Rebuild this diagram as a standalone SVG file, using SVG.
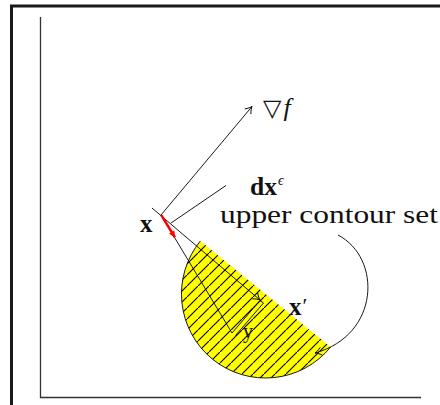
<svg xmlns="http://www.w3.org/2000/svg" width="440" height="405" viewBox="0 0 440 405">
<style>
.frame{stroke:#1a1a1a;stroke-width:3;fill:none}
.axis{stroke:#333;stroke-width:1.3;fill:none}
.ln{stroke:#000;stroke-width:0.9;fill:none}
.serif{font-family:"Liberation Serif","DejaVu Serif",serif;fill:#111}
.bold{font-weight:bold}
</style>
<defs>
<marker id="arr" markerUnits="userSpaceOnUse" markerWidth="14" markerHeight="12" viewBox="-8 -6 10 12" refX="0" refY="0" orient="auto">
<path d="M-6.5,-4 C-4,-1.8 -1.5,-0.5 0,0 C-1.5,0.5 -4,1.8 -6.5,4" stroke="#000" stroke-width="0.9" fill="none"/>
</marker>
<marker id="arrRed" markerUnits="userSpaceOnUse" markerWidth="10" markerHeight="10" viewBox="-6 -4 7 8" refX="0" refY="0" orient="auto">
<path d="M-5,-2.5 L0,0 L-5,2.5 Z" fill="#ff0000"/>
</marker>
<pattern id="hatch" patternUnits="userSpaceOnUse" width="11" height="11">
<rect width="11" height="11" fill="#ffff00"/>
<path d="M-1,12 L12,-1 M-3,2 L2,-3 M9,14 L14,9" stroke="#000" stroke-width="1.1"/>
</pattern>
</defs>

<g id="frame">
<path class="frame" d="M11.5,405 L11.5,6 L440,6"/>
</g>
<g id="axes">
<path class="axis" d="M40.5,17 L40.5,397.5 L421,397.5"/>
</g>

<g id="upper-contour-set">
<path d="M200.4,240.9 A84,84 0 0 0 330.6,347.1 Z" fill="url(#hatch)" stroke="none"/>
<path d="M200.4,240.9 A84,84 0 0 0 330.6,347.1" class="ln"/>
</g>

<g id="connectors">
<line id="grad" class="ln" x1="161" y1="215" x2="252" y2="106.5" marker-end="url(#arr)"/>
<line id="tangent" class="ln" x1="152" y1="208" x2="260" y2="300" marker-end="url(#arr)"/>
<line id="dx-line" class="ln" x1="171" y1="223" x2="226" y2="185.5"/>
<line id="x-to-y" class="ln" x1="161" y1="215" x2="232" y2="333"/>
<path id="y-to-xp" class="ln" d="M232,333 L260,300.5 L263.5,303 L235.5,335.5"/>
<line id="red-dx" x1="161.5" y1="215.5" x2="175" y2="237.5" stroke="#ff0000" stroke-width="2.4" marker-end="url(#arrRed)"/>
<path id="curve" class="ln" d="M338,235 C382,258 380,335 315,353" marker-end="url(#arr)"/>
</g>

<g id="label-grad">
<text class="serif" x="263" y="116" font-size="24" font-family="DejaVu Serif">▽<tspan font-style="italic" font-family="Liberation Serif" font-size="26" dx="2">f</tspan></text>
</g>
<g id="label-dx">
<text class="serif bold" x="250" y="195" font-size="26" textLength="27" lengthAdjust="spacingAndGlyphs">dx</text>
<text class="serif" x="278" y="185" font-size="14" font-style="italic">ϵ</text>
</g>
<g id="label-upper">
<text class="serif" x="220" y="223" font-size="25" textLength="218" lengthAdjust="spacingAndGlyphs">upper contour set</text>
</g>
<g id="label-x">
<text class="serif bold" x="140" y="232" font-size="25">x</text>
</g>
<g id="label-xp">
<text class="serif bold" x="289" y="315" font-size="25">x<tspan font-weight="normal" font-size="22" dx="1" dy="-2">′</tspan></text>
</g>
<g id="label-y">
<text class="serif" x="243" y="338" font-size="20">y</text>
</g>
</svg>
